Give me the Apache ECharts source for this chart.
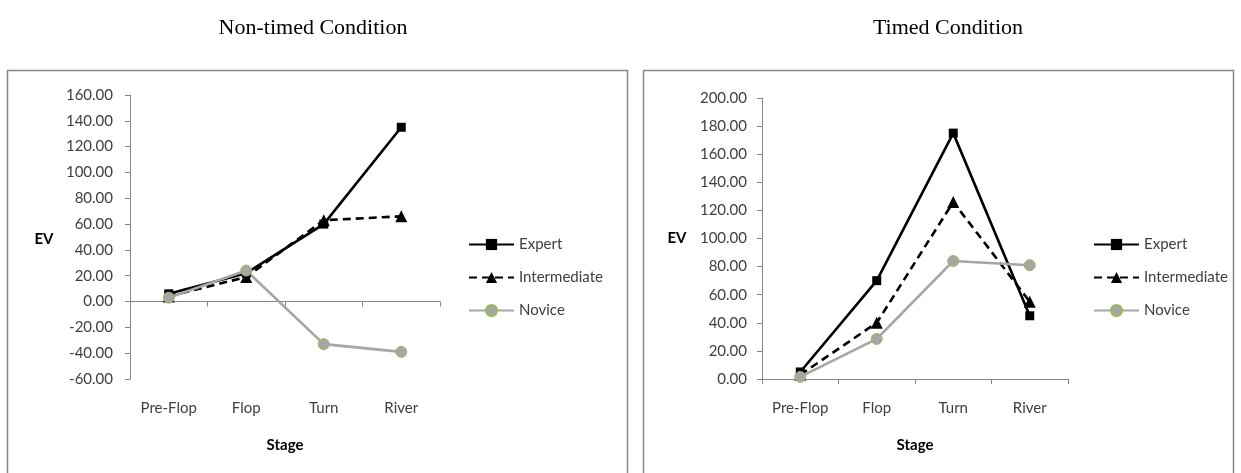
<!DOCTYPE html>
<html>
<head>
<meta charset="utf-8">
<script src="https://cdn.jsdelivr.net/npm/echarts@6/dist/echarts.min.js"></script>
<style>
  html, body { margin: 0; padding: 0; background: #fff; }
  #chart { width: 1241px; height: 473px; }
</style>
</head>
<body>
<div id="chart"></div>
<script>
// Stages of a poker hand (x categories)
const stages = ['Pre-Flop', 'Flop', 'Turn', 'River'];
const groups = ['Expert', 'Intermediate', 'Novice'];

// Expected value per stage, non-timed condition
const nonTimedExpert = [6, 22, 60, 135];
const nonTimedIntermediate = [4, 19, 63, 66];
const nonTimedNovice = [3, 24, -33, -39];

// Expected value per stage, timed condition
const timedExpert = [5, 70, 175, 45];
const timedIntermediate = [3, 40, 126, 55];
const timedNovice = [1.5, 28.5, 84, 81];

// Value-axis ranges
const nonTimedAxis = { min: -60, max: 160, interval: 20 };
const timedAxis = { min: 0, max: 200, interval: 20 };

const AXIS_GREY = '#868686';
const TEXT = '#404040';
const FONT = 'Lato, "Liberation Sans", sans-serif';

const styles = {
  Expert: {
    symbol: 'rect', symbolSize: 9,
    lineStyle: { color: '#000', width: 2.6, type: 'solid' },
    itemStyle: { color: '#000' }
  },
  Intermediate: {
    symbol: 'triangle', symbolSize: 12,
    lineStyle: { color: '#000', width: 2.6, type: [8, 5] },
    itemStyle: { color: '#000' }
  },
  Novice: {
    symbol: 'circle', symbolSize: 11,
    lineStyle: { color: '#a6a6a6', width: 2.6, type: 'solid' },
    itemStyle: { color: '#a6a6a6', borderColor: '#9bbb59', borderWidth: 1 }
  }
};

function makeSeries(name, data, gridIdx) {
  const s = styles[name];
  return {
    type: 'line',
    name: name,
    data: data,
    xAxisIndex: gridIdx * 2,
    yAxisIndex: gridIdx,
    symbol: s.symbol,
    symbolSize: s.symbolSize,
    showAllSymbol: true,
    lineStyle: s.lineStyle,
    itemStyle: s.itemStyle,
    emphasis: { disabled: true },
    animation: false
  };
}

// Category axes: one carries the labels at the bottom, one draws the line (on zero)
function labelAxis(gridIdx) {
  return {
    type: 'category', gridIndex: gridIdx, data: stages, position: 'bottom',
    axisLine: { show: false, onZero: false }, axisTick: { show: false },
    axisLabel: { margin: 22, color: TEXT, fontSize: 15, fontFamily: FONT }
  };
}
function lineAxis(gridIdx) {
  return {
    type: 'category', gridIndex: gridIdx, data: stages, position: 'bottom',
    axisLine: { show: true, onZero: true, lineStyle: { color: AXIS_GREY, width: 1 } },
    axisTick: { show: true, length: 5, lineStyle: { color: AXIS_GREY } },
    axisLabel: { show: false }
  };
}
function valueAxis(gridIdx, range, margin) {
  return {
    type: 'value', gridIndex: gridIdx,
    min: range.min, max: range.max, interval: range.interval,
    axisLine: { show: true, lineStyle: { color: AXIS_GREY, width: 1 } },
    axisTick: { show: true, length: 5, lineStyle: { color: AXIS_GREY } },
    splitLine: { show: false },
    axisLabel: {
      margin: margin, color: TEXT, fontSize: 15, fontFamily: FONT,
      formatter: v => v.toFixed(2)
    }
  };
}
function legend(left) {
  return {
    orient: 'vertical', left: left, top: 237, padding: 0,
    itemWidth: 45, itemHeight: 14, itemGap: 18,
    data: groups,
    selectedMode: false,
    textStyle: { color: TEXT, fontSize: 15, fontFamily: FONT }
  };
}

const titleStyle = { fill: '#000', fontSize: 22, fontFamily: '"Liberation Serif", "Times New Roman", serif' };
const boldLabel = { fill: '#000', fontSize: 15, fontWeight: 'bold', fontFamily: FONT };

const option = {
  backgroundColor: '#fff',
  animation: false,
  grid: [
    { left: 130, top: 95, width: 310, height: 284 },
    { left: 762, top: 98, width: 306, height: 281 }
  ],
  xAxis: [labelAxis(0), lineAxis(0), labelAxis(1), lineAxis(1)],
  yAxis: [valueAxis(0, nonTimedAxis, 17), valueAxis(1, timedAxis, 15)],
  legend: [legend(468), legend(1093)],
  series: [
    makeSeries('Expert', nonTimedExpert, 0),
    makeSeries('Intermediate', nonTimedIntermediate, 0),
    makeSeries('Novice', nonTimedNovice, 0),
    makeSeries('Expert', timedExpert, 1),
    makeSeries('Intermediate', timedIntermediate, 1),
    makeSeries('Novice', timedNovice, 1)
  ],
  graphic: [
    // panel frames
    { type: 'rect', shape: { x: 7.5, y: 70.5, width: 620, height: 420 },
      style: { fill: null, stroke: AXIS_GREY, lineWidth: 1.5 }, silent: true },
    { type: 'rect', shape: { x: 643.5, y: 70.5, width: 590, height: 420 },
      style: { fill: null, stroke: AXIS_GREY, lineWidth: 1.5 }, silent: true },
    // panel titles
    { type: 'text', x: 313, y: 28, style: Object.assign({ text: 'Non-timed Condition', align: 'center', verticalAlign: 'middle' }, titleStyle) },
    { type: 'text', x: 948, y: 28, style: Object.assign({ text: 'Timed Condition', align: 'center', verticalAlign: 'middle' }, titleStyle) },
    // axis names
    { type: 'text', x: 44, y: 239, style: Object.assign({ text: 'EV', align: 'center', verticalAlign: 'middle' }, boldLabel) },
    { type: 'text', x: 677, y: 238, style: Object.assign({ text: 'EV', align: 'center', verticalAlign: 'middle' }, boldLabel) },
    { type: 'text', x: 285, y: 445, style: Object.assign({ text: 'Stage', align: 'center', verticalAlign: 'middle' }, boldLabel) },
    { type: 'text', x: 915, y: 445, style: Object.assign({ text: 'Stage', align: 'center', verticalAlign: 'middle' }, boldLabel) }
  ]
};

const chart = echarts.init(document.getElementById('chart'), null, { renderer: 'canvas' });
chart.setOption(option);
</script>
</body>
</html>
